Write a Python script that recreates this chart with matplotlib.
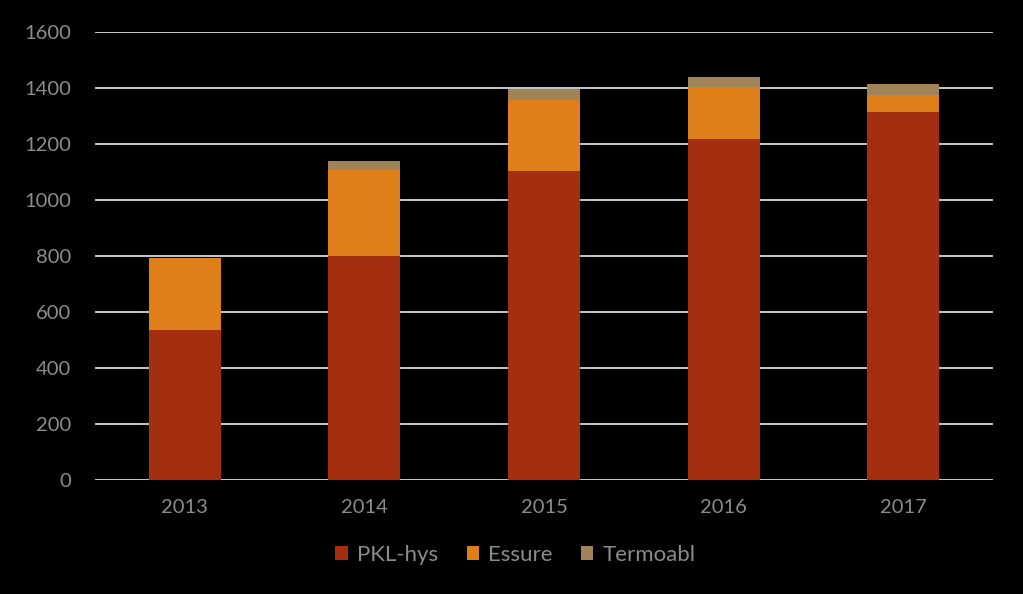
import matplotlib
matplotlib.use("Agg")
import matplotlib.pyplot as plt
import numpy as np

years = ['2013', '2014', '2015', '2016', '2017']
pkl_hys = [535, 800, 1103, 1218, 1315]
essure = [258, 307, 254, 184, 60]
termoabl = [0, 32, 39, 37, 39]

c_pkl = '#A32E10'
c_ess = '#DF7F1A'
c_ter = '#A08457'
txt = '#8C8C8C'

plt.rcParams['font.family'] = ['Lato', 'DejaVu Sans']

fig = plt.figure(figsize=(10.23, 5.94), dpi=100, facecolor='black')
ax = fig.add_axes([95 / 1023, 1 - 480 / 594, 898 / 1023, 448 / 594], facecolor='black')

x = np.arange(len(years))
w = 0.4
b1 = np.array(pkl_hys)
b2 = b1 + np.array(essure)
ax.bar(x, pkl_hys, w, color=c_pkl, label='PKL-hys', zorder=3)
ax.bar(x, essure, w, bottom=b1, color=c_ess, label='Essure', zorder=3)
ax.bar(x, termoabl, w, bottom=b2, color=c_ter, label='Termoabl', zorder=3)

ax.set_xlim(-0.5, len(years) - 0.5)
ax.set_ylim(0, 1600)
ax.set_yticks(range(0, 1601, 200))
ax.set_xticks(x)
ax.set_xticklabels(years)
ax.yaxis.grid(True, color='#D9D9D9', linewidth=1.3, zorder=0)
ax.set_axisbelow(True)
for s in ax.spines.values():
    s.set_visible(False)
ax.tick_params(axis='both', length=0, colors=txt, labelsize=14.5)
ax.tick_params(axis='y', pad=17)
ax.tick_params(axis='x', pad=14)

leg = ax.legend(loc='upper center', bbox_to_anchor=(0.468, -0.1), ncol=3, frameon=False,
                fontsize=16, handlelength=0.55, handleheight=0.55, handletextpad=0.4,
                columnspacing=1.3)
for t in leg.get_texts():
    t.set_color(txt)

fig.savefig('out.png', dpi=100, facecolor='black')
